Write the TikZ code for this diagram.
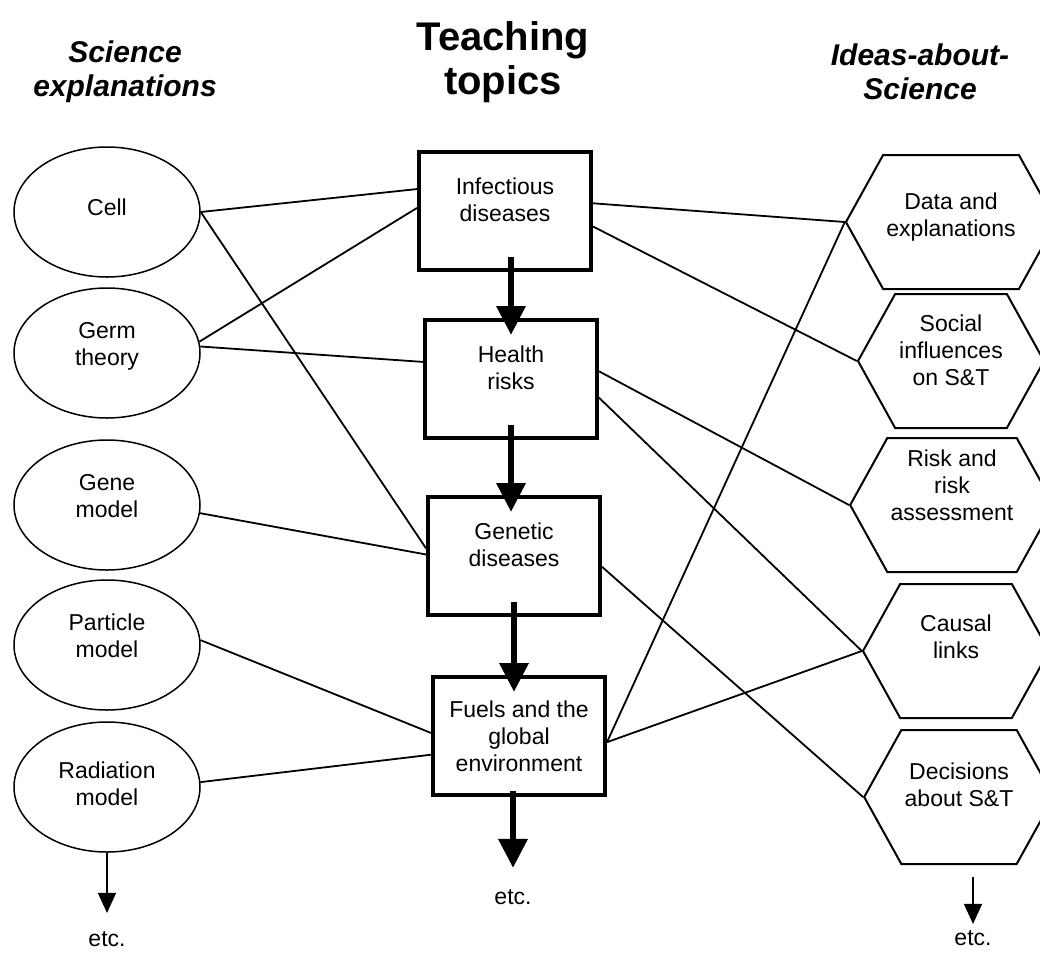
\documentclass[tikz,border=0pt]{standalone}
\usepackage{fontspec}
\setmainfont{Liberation Sans}
\usetikzlibrary{shapes.geometric,shapes.symbols,arrows.meta,positioning}

\tikzset{
  body/.style={align=center,font=\fontsize{23}{27}\selectfont},
  expl/.style={body,ellipse,draw,line width=1.5pt,minimum width=186pt,minimum height=130pt,text depth=18pt},
  topic/.style={body,rectangle,draw,line width=4pt,minimum width=172pt,minimum height=118pt,text depth=22pt},
  idea/.style={body,signal,signal to=west and east,signal pointer angle=122,draw,line width=2pt,
    minimum width=186pt,minimum height=134pt,text depth=28pt},
  heading/.style={align=center,font=\fontsize{30}{34}\selectfont\bfseries\itshape},
  link/.style={line width=1.8pt},
  flow/.style={line width=6.5pt,-{Triangle[width=28pt,length=29pt]},shorten <=-15pt,shorten >=-17pt},
  more/.style={line width=1.5pt,-{Triangle[width=18pt,length=20pt]}}
}

\begin{document}
\begin{tikzpicture}[x=1pt,y=1pt,on grid]
  \useasboundingbox (0,0) rectangle (1040,-954);
  % column headings
  \path
  node[heading] (hexpl) at (125,-72) {Science\\explanations}
  node[heading,font=\fontsize{40}{44}\selectfont\bfseries] (htopic) at (503,-62) {Teaching\\topics}
  node[heading] (hidea) at (920,-72) {Ideas-about-\\Science}
  ;
  % science explanations
  \path
  node[expl,text depth=10pt] (cell) at (107,-212) {Cell}
  node[expl,below=141pt of cell] (germ) {Germ\\theory}
  node[expl,below=152pt of germ] (gene) {Gene\\model}
  node[expl,below=140pt of gene] (part) {Particle\\model}
  node[expl,below=142pt of part,text depth=6pt] (rad) {Radiation\\model}
  node[body,below=152pt of rad] (etcL) {etc.}
  ;
  % teaching topics
  \path
  node[topic] (inf) at (505,-211) {Infectious\\diseases}
  node[topic,below right=168pt and 6pt of inf] (health) {Health\\risks}
  node[topic,below right=177pt and 3pt of health] (gen) {Genetic\\diseases}
  node[topic,below right=180pt and 5pt of gen,text depth=0pt] (fuels) {Fuels and the\\global\\environment}
  node[body,below left=161pt and 6pt of fuels] (etcM) {etc.}
  ;
  % ideas about science
  \path
  node[idea,text depth=15pt] (data) at (951,-222) {Data and\\explanations}
  node[idea,below=139pt of data,text depth=22pt] (social) {Social\\influences\\on S\&T}
  node[idea,below right=144pt and 1pt of social,text depth=40pt] (risk) {Risk and\\risk\\assessment}
  node[idea,below right=146pt and 4pt of risk] (causal) {Causal\\links}
  node[idea,below right=146pt and 3pt of causal,text depth=24pt] (dec) {Decisions\\about S\&T}
  node[body,below right=141pt and 14pt of dec] (etcR) {etc.}
  ;
  \path[link]
  (cell.east) edge (inf.166)
  (cell.east) edge (gen.175)
  (germ.7) edge (inf.178)
  (germ.4) edge (health.169)
  (gene.-5) edge (gen.179)
  (part.3) edge (fuels.178)
  (rad.3) edge (fuels.192)
  (inf.5) edge (data.180)
  (inf.-10) edge (social.180)
  (health.5) edge (risk.180)
  (health.-12) edge (causal.180)
  (gen.-7) edge (dec.180)
  (fuels.-4) edge (data.180)
  (fuels.-4) edge (causal.180)
  ;
  \path[flow]
  (inf.south -| health.north) edge (health.north)
  (health.south) edge (health.south |- gen.north)
  (gen.south) edge (gen.south |- fuels.north)
  (etcM.north |- fuels.south) edge[shorten <=-6pt,shorten >=18pt] (etcM.north)
  ;
  \path[more]
  (rad.south) edge[shorten >=15pt] (etcL.north)
  (etcR.north |- dec.south) edge[shorten <=12pt,shorten >=3pt] (etcR.north)
  ;
\end{tikzpicture}
\end{document}
